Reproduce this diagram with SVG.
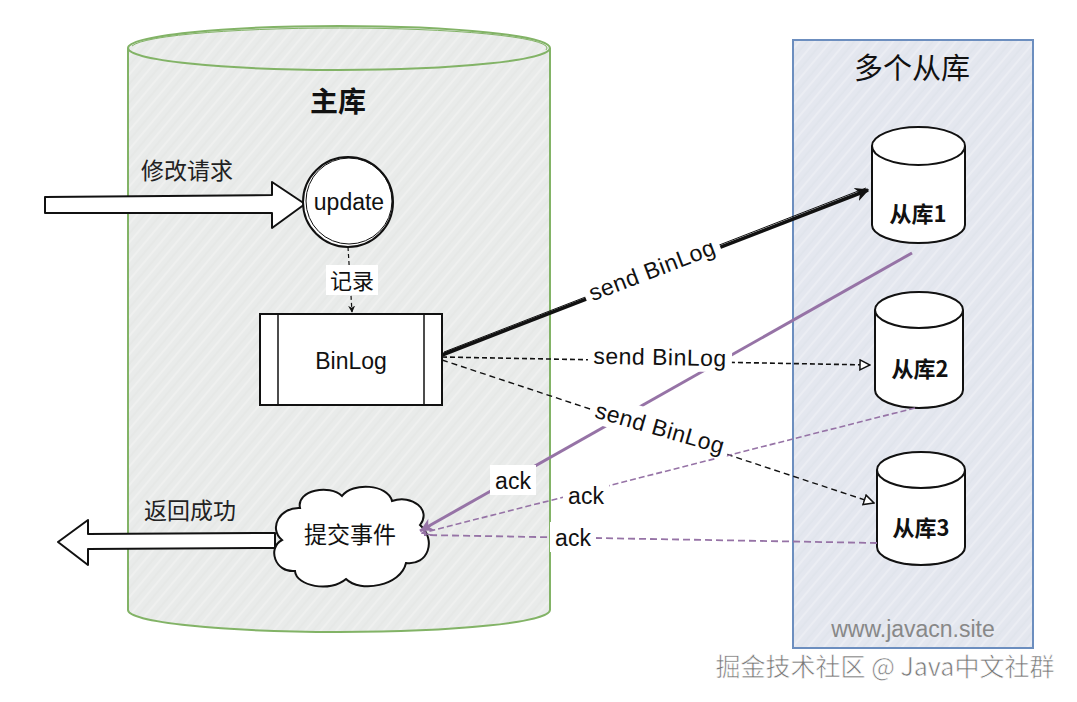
<svg xmlns="http://www.w3.org/2000/svg" width="1077" height="702" viewBox="0 0 1077 702">
<style>
.cn{font-family:"Noto Sans CJK SC","Noto Sans",sans-serif}
.en{font-family:"Liberation Sans","Noto Sans CJK SC",sans-serif}
.node{fill:#fff;stroke:#111;stroke-width:2}
.lbl{fill:#fff}
.blk{stroke:#111;fill:none}
.pur{stroke:#9673a6;fill:none}
</style>
<defs>
<pattern id="hatchG" width="12" height="12" patternUnits="userSpaceOnUse" patternTransform="rotate(-50)">
<rect width="12" height="12" fill="#e9ebea"/>
<line x1="0" y1="3" x2="12" y2="3" stroke="#f3f4f3" stroke-width="1.2"/>
<line x1="0" y1="9" x2="12" y2="9" stroke="#e1e3e2" stroke-width="0.8"/>
</pattern>
<pattern id="hatchB" width="12" height="12" patternUnits="userSpaceOnUse" patternTransform="rotate(-50)">
<rect width="12" height="12" fill="#e4e7ef"/>
<line x1="0" y1="3" x2="12" y2="3" stroke="#f1f2f7" stroke-width="1.2"/>
<line x1="0" y1="9" x2="12" y2="9" stroke="#dbdfe8" stroke-width="0.8"/>
</pattern>
<marker id="arrBlk" viewBox="0 0 10 10" refX="9" refY="5" markerWidth="7" markerHeight="7" markerUnits="userSpaceOnUse" orient="auto">
<path d="M0,0 L10,5 L0,10 L3,5 Z" fill="#111"/>
</marker>
<marker id="arrBig" viewBox="0 0 10 10" refX="9" refY="5" markerWidth="14" markerHeight="14" markerUnits="userSpaceOnUse" orient="auto">
<path d="M0,0 L10,5 L0,10 L3,5 Z" fill="#111"/>
</marker>
<marker id="arrOpen" viewBox="0 0 12 12" refX="11" refY="6" markerWidth="12" markerHeight="12" markerUnits="userSpaceOnUse" orient="auto">
<path d="M1,1 L11,6 L1,11 Z" fill="#fff" stroke="#111" stroke-width="1.5"/>
</marker>
<marker id="arrPur" viewBox="0 0 12 12" refX="11" refY="6" markerWidth="16" markerHeight="16" markerUnits="userSpaceOnUse" orient="auto">
<path d="M1,1 L11,6 L1,11 L4,6 Z" fill="#9673a6"/>
</marker>
<marker id="arrPurO" viewBox="0 0 12 12" refX="11" refY="6" markerWidth="12" markerHeight="12" markerUnits="userSpaceOnUse" orient="auto">
<path d="M1,1 L11,6 L1,11" fill="none" stroke="#9673a6" stroke-width="1.5"/>
</marker>
</defs>
<rect width="1077" height="702" fill="#fff"/>

<g id="master">
<path d="M128,48 A211,22 0 0,1 550,48 L550,610 A211,22 0 0,1 128,610 Z" fill="url(#hatchG)" stroke="#82b366" stroke-width="2"/>
<path d="M128,48 A211,22 0 0,0 550,48" fill="none" stroke="#82b366" stroke-width="2"/>
<path d="M132,46 A208,20 0 0,1 546,50" fill="none" stroke="#82b366" stroke-width="1"/>
<text x="338" y="112" class="cn" font-size="28" font-weight="bold" text-anchor="middle" fill="#111">主库</text>
</g>

<g id="slaves">
<rect x="793" y="40" width="240" height="608" fill="url(#hatchB)" stroke="#6c8ebf" stroke-width="2"/>
<text x="912" y="79" class="cn" font-size="29" text-anchor="middle" fill="#111">多个从库</text>
<text x="913" y="637" class="en" font-size="23" text-anchor="middle" fill="#888">www.javacn.site</text>
</g>

<g id="request-arrow">
<polygon points="45,197 272,195 272,182 305,204 272,228 272,213 45,213" fill="#fff" stroke="#111" stroke-width="2" stroke-linejoin="round"/>
<text x="187" y="179" class="cn" font-size="23" text-anchor="middle" fill="#222">修改请求</text>
</g>

<g id="update">
<circle cx="348" cy="202" r="45" class="node"/>
<circle cx="349" cy="201" r="43" fill="none" stroke="#111" stroke-width="1"/>
<text x="349" y="210" class="en" font-size="23" text-anchor="middle" fill="#111">update</text>
</g>

<g id="binlog">
<rect x="260" y="314" width="182" height="91" class="node"/>
<line x1="278" y1="314" x2="278" y2="405" stroke="#111" stroke-width="1.5"/>
<line x1="424" y1="314" x2="424" y2="405" stroke="#111" stroke-width="1.5"/>
<text x="351" y="369" class="en" font-size="23" text-anchor="middle" fill="#111">BinLog</text>
</g>

<g id="commit">
<path d="M300,508 C296,490 330,484 342,496 C352,482 388,484 392,501 C412,494 432,510 420,525 C437,540 428,566 406,563 C401,586 360,593 346,579 C330,593 296,586 295,571 C275,573 267,548 282,540 C268,528 280,507 300,508 Z" class="node"/>
<text x="350" y="543" class="cn" font-size="23" text-anchor="middle" fill="#111">提交事件</text>
</g>

<g id="return-arrow">
<polygon points="275,533 88,534 88,520 58,542 88,565 88,549 275,548" fill="#fff" stroke="#111" stroke-width="2" stroke-linejoin="round"/>
<text x="190" y="519" class="cn" font-size="23" text-anchor="middle" fill="#222">返回成功</text>
</g>

<g id="slave1">
<path d="M872,146 A46.5,19 0 0,1 965,146 L965,225 A46.5,18 0 0,1 872,225 Z" class="node"/>
<path d="M872,146 A46.5,19 0 0,0 965,146" fill="none" stroke="#111" stroke-width="2"/>
<text x="918" y="222" class="cn" font-size="22" font-weight="bold" text-anchor="middle" fill="#111">从库1</text>
</g>
<g id="slave2">
<path d="M875,310 A44,18 0 0,1 963,310 L963,390 A44,18 0 0,1 875,390 Z" class="node"/>
<path d="M875,310 A44,18 0 0,0 963,310" fill="none" stroke="#111" stroke-width="2"/>
<text x="920" y="377" class="cn" font-size="22" font-weight="bold" text-anchor="middle" fill="#111">从库2</text>
</g>
<g id="slave3">
<path d="M877,470 A44,18 0 0,1 965,470 L965,547 A44,18 0 0,1 877,547 Z" class="node"/>
<path d="M877,470 A44,18 0 0,0 965,470" fill="none" stroke="#111" stroke-width="2"/>
<text x="921" y="536" class="cn" font-size="22" font-weight="bold" text-anchor="middle" fill="#111">从库3</text>
</g>

<g id="connectors">
<line x1="348" y1="247" x2="352" y2="312" class="blk" stroke-width="1.2" stroke-dasharray="4,3" marker-end="url(#arrBlk)"/>
<rect x="326" y="265" width="52" height="30" class="lbl"/>
<text x="352" y="289" class="cn" font-size="22" text-anchor="middle" fill="#111">记录</text>

<line x1="442" y1="355" x2="868" y2="190" class="blk" stroke-width="3.5" marker-end="url(#arrBig)"/>
<line x1="444" y1="352" x2="866" y2="188" class="blk" stroke-width="1"/>
<line x1="442" y1="357" x2="870" y2="365" class="blk" stroke-width="1.6" stroke-dasharray="5,3" marker-end="url(#arrOpen)"/>
<line x1="442" y1="360" x2="874" y2="503" class="blk" stroke-width="1.4" stroke-dasharray="6,4" marker-end="url(#arrOpen)"/>

<line x1="912" y1="253" x2="420" y2="531" class="pur" stroke-width="3" marker-end="url(#arrPur)"/>
<line x1="915" y1="408" x2="422" y2="533" class="pur" stroke-width="1.6" stroke-dasharray="6,3" marker-end="url(#arrPurO)"/>
<line x1="877" y1="543" x2="424" y2="535" class="pur" stroke-width="1.8" stroke-dasharray="7,4"/>

<g transform="translate(652,270) rotate(-21)">
<rect x="-72" y="-16" width="144" height="30" class="lbl"/>
<text x="0" y="8" class="en" font-size="23" letter-spacing="0.5" text-anchor="middle" fill="#111">send BinLog</text>
</g>
<g transform="translate(660,357) rotate(1)">
<rect x="-72" y="-16" width="144" height="30" class="lbl"/>
<text x="0" y="8" class="en" font-size="23" letter-spacing="0.5" text-anchor="middle" fill="#111">send BinLog</text>
</g>
<g transform="translate(660,428) rotate(16)">
<rect x="-72" y="-16" width="144" height="30" class="lbl"/>
<text x="0" y="8" class="en" font-size="23" letter-spacing="0.5" text-anchor="middle" fill="#111">send BinLog</text>
</g>

<rect x="490" y="465" width="46" height="30" class="lbl"/>
<text x="513" y="489" class="en" font-size="23" text-anchor="middle" fill="#111">ack</text>
<rect x="563" y="480" width="46" height="30" class="lbl"/>
<text x="586" y="504" class="en" font-size="23" text-anchor="middle" fill="#111">ack</text>
<rect x="550" y="522" width="46" height="30" class="lbl"/>
<text x="573" y="546" class="en" font-size="23" text-anchor="middle" fill="#111">ack</text>
</g>

<text x="885" y="676" class="cn" font-size="25" text-anchor="middle" fill="#777" stroke="#fff" stroke-width="0.6">掘金技术社区 @ Java中文社群</text>
</svg>
